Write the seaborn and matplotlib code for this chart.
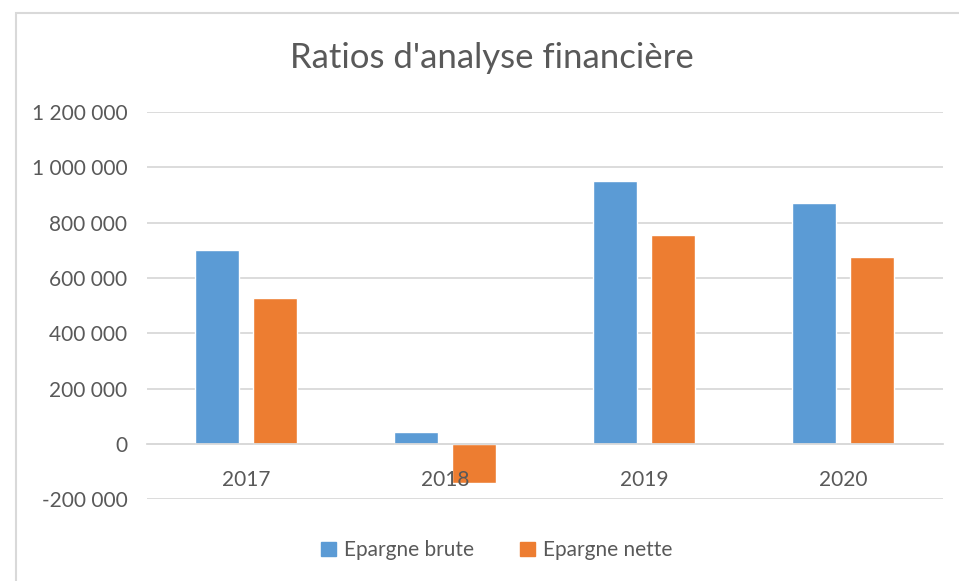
import pandas as pd
import matplotlib.pyplot as plt
import matplotlib.patches as mpatches
from matplotlib.ticker import FuncFormatter, MultipleLocator
import seaborn as sns

years = ["2017", "2018", "2019", "2020"]
epargne_brute = [700000, 44000, 950000, 870000]
epargne_nette = [528000, -142000, 754000, 676000]
series_names = ["Epargne brute", "Epargne nette"]
colors = ["#5B9BD5", "#ED7D31"]

df = pd.DataFrame({
    "annee": years * 2,
    "valeur": epargne_brute + epargne_nette,
    "serie": [series_names[0]] * len(years) + [series_names[1]] * len(years),
})

sns.set_style("white")
plt.rcParams['font.family'] = ['Lato', 'DejaVu Sans']

fig = plt.figure(figsize=(9.59, 5.81), dpi=100)
ax = fig.add_axes([0.153, 0.141, 0.830, 0.666])

sns.barplot(data=df, x="annee", y="valeur", hue="serie", palette=colors,
            width=0.58, gap=0.24, ax=ax, legend=False, saturation=1)

ax.set_ylim(-200000, 1200000)
ax.yaxis.set_major_locator(MultipleLocator(200000))
ax.yaxis.set_major_formatter(FuncFormatter(lambda v, p: f"{int(v):,}".replace(",", " ")))
ax.grid(axis="y", color="#d9d9d9", linewidth=1.3)
ax.set_axisbelow(True)
# category labels sit on top of the bars (like the 2018 label over the negative bar)
ax.xaxis.set_zorder(3)
for s in ["top", "right", "left"]:
    ax.spines[s].set_visible(False)
ax.spines["bottom"].set_position(("data", 0))
ax.spines["bottom"].set_color("#d9d9d9")
ax.spines["bottom"].set_linewidth(1.3)
ax.tick_params(axis="x", length=0, pad=19, labelsize=15, labelcolor="#595959")
ax.tick_params(axis="y", length=0, pad=14, labelsize=15, labelcolor="#595959")
ax.set_xlabel("")
ax.set_ylabel("")

fig.text(0.513, 0.9, "Ratios d'analyse financière", ha="center", va="center",
         fontsize=25, color="#595959")

handles = [mpatches.Patch(color=c, label=n) for c, n in zip(colors, series_names)]
fig.legend(handles=handles, loc="center", bbox_to_anchor=(0.518, 0.053), ncol=2,
           frameon=False, fontsize=15, labelcolor="#595959",
           handlelength=0.7, handleheight=0.7, handletextpad=0.4, columnspacing=2.2)

border = mpatches.Rectangle((16 / 959, -0.1), 1.2, 1 - 13 / 581 + 0.1, transform=fig.transFigure,
                            fill=False, edgecolor="#d9d9d9", linewidth=1.5)
fig.patches.append(border)

fig.savefig("out.png", dpi=100)
